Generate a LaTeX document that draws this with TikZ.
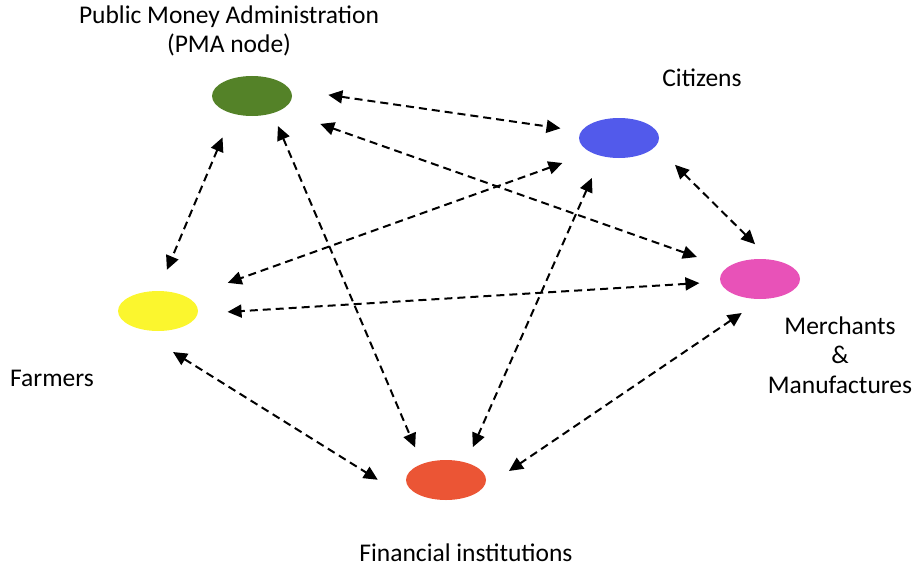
\documentclass[tikz,border=0pt]{standalone}
\usepackage{fontspec}
\setmainfont{Carlito}
\usetikzlibrary{arrows.meta,shapes.geometric}
\definecolor{pmagreen}{HTML}{548228}
\definecolor{citblue}{HTML}{525AEB}
\definecolor{faryellow}{HTML}{FBF62E}
\definecolor{merpink}{HTML}{E852B8}
\definecolor{finred}{HTML}{EB5535}
\tikzset{
  actor/.style={ellipse, minimum width=80pt, minimum height=40pt, inner sep=0pt, outer sep=0pt},
  link/.style={draw, line width=2pt, dash pattern=on 8pt off 5pt,
    {Triangle[length=14pt,width=13pt]}-{Triangle[length=14pt,width=13pt]}},
  lbl/.style={font=\fontsize{25.5}{29.5}\selectfont, align=center}
}
\begin{document}
\begin{tikzpicture}[x=1pt,y=-1pt]
\useasboundingbox (0,0) rectangle (917,567);
\node[actor, fill=pmagreen] (pma) at (252,96) {};
\node[actor, fill=citblue] (cit) at (619,138) {};
\node[actor, fill=faryellow] (far) at (158,311) {};
\node[actor, fill=merpink] (mer) at (760,279) {};
\node[actor, fill=finred] (fin) at (446,480) {};

\node[lbl] (pmalbl) at (229,31) {Public Money Administration\\(PMA node)};
\node[lbl] (citlbl) at (702,78) {Citizens};
\node[lbl] (farlbl) at (52,378) {Farmers};
\node[lbl] (merlbl) at (840,355) {Merchants\\\&\\Manufactures};
\node[lbl] (finlbl) at (466,553) {Financial institutions};

\path[link, shorten <=39pt, shorten >=21pt] (pma.10) -- (cit.170);
\path[link, shorten <=42pt, shorten >=32pt] (pma.-26) -- (mer.161);
\path[link, shorten <=26pt, shorten >=23pt] (pma.-138) -- (far.north);
\path[link, shorten <=14pt, shorten >=18pt] (pma.-40) -- (fin.146);
\path[link, shorten <=31pt, shorten >=43pt] (cit.208) -- (far.25);
\path[link, shorten <=24pt, shorten >=17pt] (cit.226) -- (fin.41);
\path[link, shorten <=27pt, shorten >=22pt] (cit.-12) -- (mer.61);
\path[link, shorten <=21pt, shorten >=30pt] (mer.184) -- (far.-4);
\path[link, shorten <=25pt, shorten >=37pt] (mer.-83) -- (fin.-20);
\path[link, shorten >=25pt] ([shift={(15,41)}]far.center) -- ([shift={(-47,13)}]fin.center);
\end{tikzpicture}
\end{document}
